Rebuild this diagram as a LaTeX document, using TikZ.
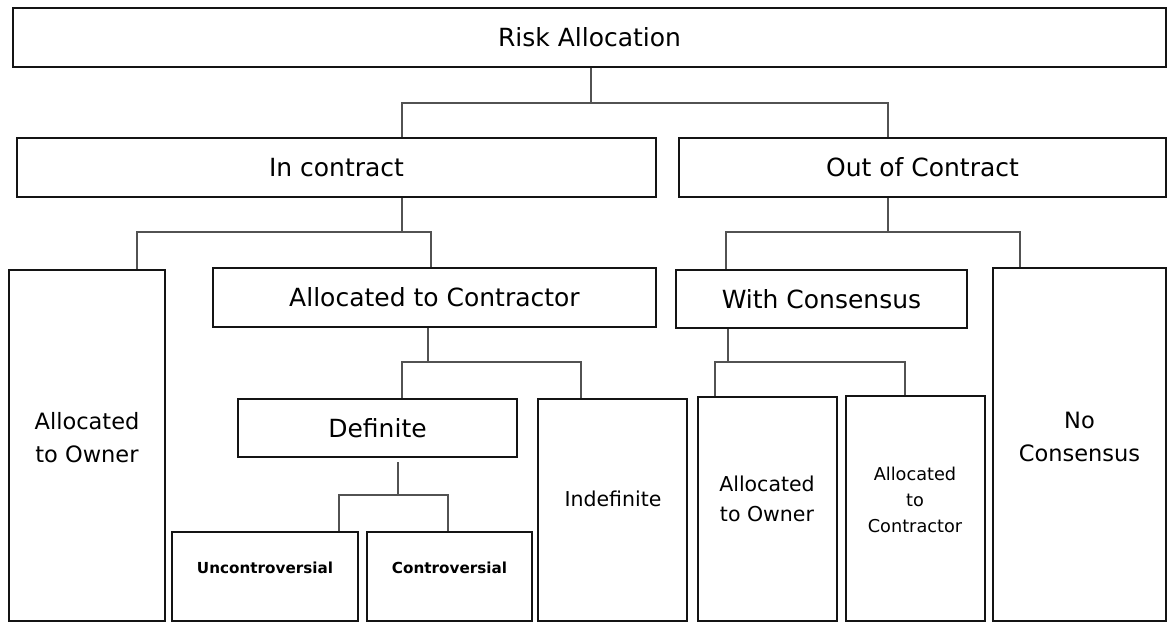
\documentclass[tikz,border=0pt]{standalone}
\usepackage{fontspec}
\setmainfont{DejaVu Sans}
\begin{document}
\begin{tikzpicture}[x=1pt,y=-1pt,
  box/.style 2 args={draw=black!92, line width=2.2pt, inner sep=0pt,
    minimum width=#1, minimum height=#2},
  big/.style={font=\fontsize{25}{30}\selectfont},
  lblA/.style={inner sep=0pt, align=center, font=\fontsize{22.5}{33}\selectfont},
  lblB/.style={inner sep=0pt, align=center, font=\fontsize{20.5}{30}\selectfont},
  lblC/.style={inner sep=0pt, align=center, font=\fontsize{17.7}{26}\selectfont},
  boldlbl/.style={inner sep=0pt, font=\fontsize{15.2}{18}\selectfont\bfseries},
  conn/.style={draw=black!68, line width=1.2pt}]
\useasboundingbox (0,0) rectangle (1168,623);

% top level
\node[box={1153}{59}, big] (risk) at (589.5,37.5) {Risk Allocation};

% second level
\node[box={639}{59}, big] (incontract) at (336.5,167.5) {In contract};
\node[box={487}{59}, big] (outcontract) at (922.5,167.5) {Out of Contract};

% third level
\node[box={156}{351}] (ownerA) at (87,445.5) {};
\node[lblA] (ownerAtxt) at (87,438) {Allocated\\to Owner};
\node[box={443}{59}, big] (allocc) at (434.5,297.5) {Allocated to Contractor};
\node[box={291}{58}, big] (withc) at (821.5,299) {With Consensus};
\node[box={173}{353}] (nocons) at (1079.5,444.5) {};
\node[lblA] (noconstxt) at (1079.5,437) {No\\Consensus};

% fourth level
\node[box={279}{58}, big] (definite) at (377.5,428) {Definite};
\node[box={149}{222}] (indef) at (612.5,510) {};
\node[lblB] (indeftxt) at (613,499) {Indefinite};
\node[box={139}{224}] (ownerB) at (767.5,509) {};
\node[lblB] (ownerBtxt) at (767,499) {Allocated\\to Owner};
\node[box={139}{225}] (contrB) at (915.5,508.5) {};
\node[lblC] (contrBtxt) at (915,500) {Allocated\\to\\Contractor};

% fifth level
\node[box={186}{89}] (uncontro) at (265,576.5) {};
\node[boldlbl] (uncontrotxt) at (265,568) {Uncontroversial};
\node[box={165}{89}] (contro) at (449.5,576.5) {};
\node[boldlbl] (controtxt) at (449.5,568) {Controversial};

% junction points of the elbow connectors
\coordinate (jR) at (591,103);  \coordinate (jRl) at (402,103); \coordinate (jRr) at (888,103);
\coordinate (jI) at (402,232);  \coordinate (jIl) at (137,232); \coordinate (jIr) at (431,232);
\coordinate (jO) at (888,232);  \coordinate (jOl) at (726,232); \coordinate (jOr) at (1020,232);
\coordinate (jA) at (428,362);  \coordinate (jAl) at (402,362); \coordinate (jAr) at (581,362);
\coordinate (jW) at (728,362);  \coordinate (jWl) at (715,362); \coordinate (jWr) at (905,362);
\coordinate (jD) at (398,495);  \coordinate (jDl) at (339,495); \coordinate (jDr) at (448,495);

% connectors
\draw[conn] (risk.south -| jR) -- (jR);
\draw[conn] (incontract.north -| jRl) -- (jRl) -- (jRr) -- (outcontract.north -| jRr);

\draw[conn] (incontract.south -| jI) -- (jI);
\draw[conn] (ownerA.north -| jIl) -- (jIl) -- (jIr) -- (allocc.north -| jIr);

\draw[conn] (outcontract.south -| jO) -- (jO);
\draw[conn] (withc.north -| jOl) -- (jOl) -- (jOr) -- (nocons.north -| jOr);

\draw[conn] (allocc.south -| jA) -- (jA);
\draw[conn] (definite.north -| jAl) -- (jAl) -- (jAr) -- (indef.north -| jAr);

\draw[conn] (withc.south -| jW) -- (jW);
\draw[conn] (ownerB.north -| jWl) -- (jWl) -- (jWr) -- (contrB.north -| jWr);

\draw[conn] ([yshift=-4pt]definite.south -| jD) -- (jD);
\draw[conn] (uncontro.north -| jDl) -- (jDl) -- (jDr) -- (contro.north -| jDr);
\end{tikzpicture}
\end{document}
